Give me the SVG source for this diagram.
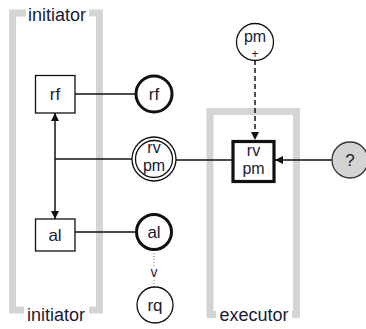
<svg xmlns="http://www.w3.org/2000/svg" width="366" height="329" viewBox="0 0 366 329">
<style>
.frame{fill:none;stroke:#d4d4d4;stroke-width:7}
.lbl{font-family:"Liberation Sans",Arial,sans-serif;font-size:18px;fill:#1a1a33;text-anchor:middle}
.t{font-family:"Liberation Sans",Arial,sans-serif;font-size:17px;fill:#1a1a33;text-anchor:middle}
.s{font-size:16px}
.box{fill:#fff;stroke:#111;stroke-width:1.3}
.tbox{fill:#fff;stroke:#111;stroke-width:3.2}
.c{fill:#fff;stroke:#111;stroke-width:1.3}
.tc{fill:#fff;stroke:#111;stroke-width:3}
.ln{fill:none;stroke:#111;stroke-width:1.5}
</style>
<defs>
<marker id="ah" viewBox="0 0 8 8" refX="8" refY="4" markerWidth="8" markerHeight="8" markerUnits="userSpaceOnUse" orient="auto-start-reverse">
<path d="M0,0 L8,4 L0,8 z" fill="#111"/>
</marker>
</defs>
<rect width="366" height="329" fill="#fff"/>
<g id="initiator-frame">
<rect class="frame" x="12.5" y="13" width="87" height="297"/>
<rect x="26" y="5" width="63" height="18" fill="#fff"/>
<text class="lbl" x="57" y="21">initiator</text>
<rect x="24" y="305" width="65" height="20" fill="#fff"/>
<text class="lbl" x="56" y="321">initiator</text>
</g>
<g id="executor-frame">
<rect class="frame" x="210" y="111.5" width="86.5" height="203"/>
<rect x="216" y="305" width="76" height="20" fill="#fff"/>
<text class="lbl" x="254" y="321">executor</text>
</g>
<g id="connectors">
<line class="ln" x1="75" y1="94" x2="136" y2="94"/>
<line class="ln" x1="55" y1="113" x2="55" y2="219" marker-start="url(#ah)" marker-end="url(#ah)"/>
<line class="ln" x1="55" y1="159" x2="132" y2="159"/>
<line class="ln" x1="176" y1="160" x2="232" y2="160"/>
<line class="ln" x1="332" y1="160" x2="275" y2="160" marker-end="url(#ah)"/>
<line class="ln" x1="255" y1="60" x2="255" y2="140" stroke-dasharray="5,3" marker-end="url(#ah)"/>
<line class="ln" x1="75" y1="232" x2="136" y2="232"/>
<line x1="154" y1="250" x2="154" y2="287" stroke="#777" stroke-width="1" stroke-dasharray="1,2"/>
<rect x="149" y="266" width="10" height="12" fill="#fff"/>
<text class="t" x="154" y="277" style="font-size:14px">v</text>
</g>
<g id="rf-box">
<rect class="box" x="35.5" y="75.5" width="39.5" height="37.5"/>
<text class="t" x="55" y="100">rf</text>
</g>
<g id="rf-circle">
<circle class="tc" cx="154" cy="94" r="18"/>
<text class="t" x="154" y="100">rf</text>
</g>
<g id="rvpm-circle">
<circle class="c" cx="154" cy="159" r="22"/>
<circle class="c" cx="154" cy="159" r="18.5"/>
<text class="t s" x="154" y="153">rv</text>
<text class="t s" x="154" y="171">pm</text>
</g>
<g id="al-box">
<rect class="box" x="35.5" y="219" width="39.5" height="32"/>
<text class="t" x="55" y="241">al</text>
</g>
<g id="al-circle">
<circle class="tc" cx="154" cy="232" r="17.5"/>
<text class="t" x="154" y="238">al</text>
</g>
<g id="rq-circle">
<circle class="c" cx="155" cy="305" r="18"/>
<text class="t" x="155" y="311">rq</text>
</g>
<g id="pm-circle">
<circle class="c" cx="255" cy="42" r="18.5"/>
<text class="t s" x="255" y="42">pm</text>
<text class="t" x="255" y="58" style="font-size:12px">+</text>
</g>
<g id="rvpm-box">
<rect class="tbox" x="233" y="141.5" width="41" height="40"/>
<text class="t s" x="253.5" y="156">rv</text>
<text class="t s" x="253.5" y="174">pm</text>
</g>
<g id="q-circle">
<circle cx="350" cy="160" r="18" fill="#d3d3d3" stroke="#333" stroke-width="1.3"/>
<text class="t" x="350" y="166">?</text>
</g>
</svg>
